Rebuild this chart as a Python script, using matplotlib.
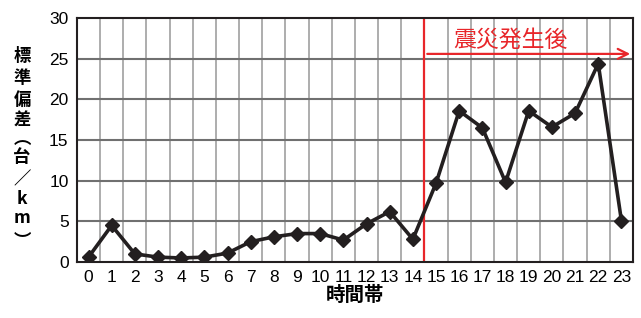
import numpy as np
import matplotlib.pyplot as plt

plt.rcParams['font.family'] = ['Liberation Sans Narrow', 'Liberation Sans', 'Noto Sans CJK JP', 'DejaVu Sans']

hours = np.arange(24)
std_dev = [0.6, 4.5, 1.0, 0.6, 0.5, 0.6, 1.1, 2.5, 3.1, 3.5, 3.5, 2.7,
           4.7, 6.2, 2.8, 9.7, 18.6, 16.5, 9.8, 18.6, 16.6, 18.3, 24.4, 5.1]
quake_hour = 14.5
ylabel_chars = ["標", "準", "偏", "差", "︵", "台", "／", "k", "m", "︶"]

fig = plt.figure(figsize=(6.41, 3.18), dpi=100)
ax = fig.add_axes([0.120, 0.176, 0.8675, 0.767])

# vertical grid at category boundaries
for b in np.arange(-0.5, 24, 1.0):
    ax.axvline(b, color="#a0a0a0", lw=1.2, zorder=1)
for v in range(5, 30, 5):
    ax.axhline(v, color="#707070", lw=1.5, zorder=1)

ax.plot(hours, std_dev, color="#231f20", lw=2.6, marker="D", markersize=7.5, zorder=3)

# earthquake marker
ax.axvline(quake_hour, color="#e8262a", lw=1.6, zorder=2)
ax.annotate("", xy=(23.5, 25.6), xytext=(quake_hour, 25.6),
            arrowprops=dict(arrowstyle="->", color="#e8262a", lw=1.6,
                            mutation_scale=18), zorder=4)
ax.text(18.2, 25.9, "震災発生後", color="#e8262a", fontsize=16.5,
        family=['Noto Sans CJK JP'], ha="center", va="bottom", zorder=4)

ax.set_xlim(-0.5, 23.5)
ax.set_ylim(0, 30)
ax.set_xticks(hours)
ax.set_yticks(range(0, 31, 5))
ax.tick_params(length=0, labelsize=12.5, pad=6)
for s in ax.spines.values():
    s.set_linewidth(1.5)
    s.set_color("#231f20")
    s.set_zorder(5)

ax.set_xlabel("時間帯", family=['Noto Sans CJK JP'], fontsize=14,
              fontweight="bold", labelpad=0)

# stacked vertical y label
ypix = [56, 78, 100, 121, 140, 157, 179, 199, 218, 241]
for ch, yp in zip(ylabel_chars, ypix):
    fig.text(22 / 641, 1 - yp / 318, ch, family=['Noto Sans CJK JP'],
             fontsize=12.5, fontweight="bold", ha="center", va="center")

plt.savefig("out.png", dpi=100)
plt.close()
